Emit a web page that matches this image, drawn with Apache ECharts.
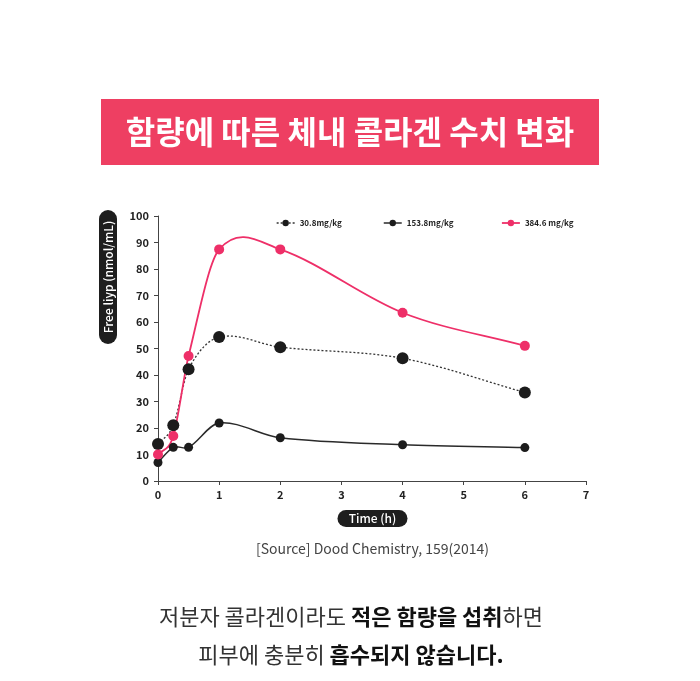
<!DOCTYPE html>
<html>
<head>
<meta charset="utf-8">
<script src="https://cdn.jsdelivr.net/npm/echarts@6/dist/echarts.min.js"></script>
<style>
  html, body { margin: 0; padding: 0; background: #fff; }
  #chart { width: 700px; height: 681px; }
</style>
</head>
<body>
<div id="chart"></div>
<script>
// 시간 (h)
const times = [0, 0.25, 0.5, 1, 2, 4, 6]
// 용량별 Free Hyp 농도 (nmol/mL)
const dose30 = [14, 21, 42.2, 54.3, 50.5, 46.3, 33.4]
const dose153 = [7, 12.7, 12.7, 21.9, 16.3, 13.7, 12.6]
const dose384 = [10, 17, 47.2, 87.4, 87.4, 63.5, 51]
const seriesNames = ['30.8mg/kg', '153.8mg/kg', '384.6 mg/kg']
const xTicks = [0, 7, 1]   // min, max, interval
const yTicks = [0, 100, 10]

const pink = '#EE2F68'
const dark = '#1c1c1c'
const font = '"Noto Sans CJK KR", "Noto Sans", sans-serif'

const pairs = arr => times.map((t, i) => [t, arr[i]])

// 곡선: 축 좌표(api.coord)로 변환한 점들을 지나는 3차 Hermite 곡선
function curveSeries(name, arr, stroke, width, dash) {
  return {
    name: name, type: 'custom', silent: true, z: 2,
    data: pairs(arr),
    renderItem: (params, api) => {
      if (params.dataIndex !== 0) return null
      const p = times.map((t, i) => api.coord([t, arr[i]]))
      const n = p.length
      const m = p.map((pt, i) => {
        const a = p[Math.max(i - 1, 0)]
        const b = p[Math.min(i + 1, n - 1)]
        return (b[1] - a[1]) / (b[0] - a[0])
      })
      let d = 'M' + p[0][0] + ' ' + p[0][1]
      for (let i = 0; i < n - 1; i++) {
        const dx = (p[i + 1][0] - p[i][0]) / 3
        d += ' C' + (p[i][0] + dx) + ' ' + (p[i][1] + m[i] * dx) + ' ' +
          (p[i + 1][0] - dx) + ' ' + (p[i + 1][1] - m[i + 1] * dx) + ' ' +
          p[i + 1][0] + ' ' + p[i + 1][1]
      }
      return {
        type: 'path',
        shape: { pathData: d },
        style: { fill: 'none', stroke: stroke, lineWidth: width, lineDash: dash || null }
      }
    }
  }
}

const myChart = echarts.init(document.getElementById('chart'), null, { renderer: 'canvas' })

const legendBase = {
  top: 214,
  itemWidth: 18,
  itemHeight: 8,
  textStyle: { fontSize: 8, fontWeight: 600, color: '#222', fontFamily: font }
}

const option = {
  animation: false,
  backgroundColor: '#fff',
  grid: { left: 158, right: 114, top: 216, bottom: 200, containLabel: false },
  legend: [
    Object.assign({ left: 271, data: [{ name: seriesNames[0] }],
      lineStyle: { color: '#333', width: 1.3, type: [2, 2], opacity: 1 } }, legendBase),
    Object.assign({ left: 378, data: [{ name: seriesNames[1] }],
      lineStyle: { color: '#2a2a2a', width: 1.5, type: 'solid', opacity: 1 } }, legendBase),
    Object.assign({ left: 496, data: [{ name: seriesNames[2] }],
      lineStyle: { color: pink, width: 1.8, type: 'solid', opacity: 1 } }, legendBase)
  ],
  xAxis: {
    type: 'value',
    min: xTicks[0], max: xTicks[1], interval: xTicks[2],
    splitLine: { show: false },
    axisLine: { lineStyle: { color: '#444', width: 1 } },
    axisTick: { show: true, length: 4, lineStyle: { color: '#444' } },
    axisLabel: { margin: 8, fontSize: 11, fontWeight: 'bold', color: '#222', fontFamily: font }
  },
  yAxis: {
    type: 'value',
    min: yTicks[0], max: yTicks[1], interval: yTicks[2],
    splitLine: { show: false },
    axisLine: { show: true, lineStyle: { color: '#444', width: 1 } },
    axisTick: { show: true, length: 4, lineStyle: { color: '#444' } },
    axisLabel: { margin: 9, fontSize: 11, fontWeight: 'bold', color: '#222', fontFamily: font }
  },
  series: [
    curveSeries('c30', dose30, '#333', 1.3, [2, 2]),
    curveSeries('c153', dose153, '#2a2a2a', 1.5),
    curveSeries('c384', dose384, pink, 1.8),
    {
      name: seriesNames[0], type: 'line',
      data: pairs(dose30),
      symbol: 'circle', symbolSize: 12,
      itemStyle: { color: dark },
      lineStyle: { color: '#333', width: 0, opacity: 0 },
      z: 4
    },
    {
      name: seriesNames[1], type: 'line',
      data: pairs(dose153),
      symbol: 'circle', symbolSize: 9,
      itemStyle: { color: dark },
      lineStyle: { color: '#2a2a2a', width: 0, opacity: 0 },
      z: 3
    },
    {
      name: seriesNames[2], type: 'line',
      data: pairs(dose384),
      symbol: 'circle', symbolSize: 10,
      itemStyle: { color: pink },
      lineStyle: { color: pink, width: 0, opacity: 0 },
      z: 5
    }
  ],
  graphic: [
    // 제목 박스
    {
      type: 'rect', left: 101, top: 99, z: 10,
      shape: { width: 498, height: 66 },
      style: { fill: '#EE3F62' }
    },
    {
      type: 'text', x: 350, y: 132, z: 11,
      style: {
        text: '함량에 따른 체내 콜라겐 수치 변화',
        fill: '#fff', font: 'bold 32px ' + font,
        align: 'center', verticalAlign: 'middle'
      }
    },
    // y축 이름
    {
      type: 'group', x: 108, y: 277, rotation: Math.PI / 2, z: 10,
      children: [
        { type: 'rect', shape: { x: -67, y: -9, width: 134, height: 18, r: 9 }, style: { fill: '#1e1e1e' } },
        {
          type: 'text', x: 0, y: 0,
          style: { text: 'Free liyp (nmol/mL)', fill: '#fff', font: '500 12px ' + font, align: 'center', verticalAlign: 'middle' }
        }
      ]
    },
    // x축 이름
    {
      type: 'group', x: 372.5, y: 518.5, z: 10,
      children: [
        { type: 'rect', shape: { x: -35, y: -8.5, width: 70, height: 17, r: 8.5 }, style: { fill: '#1e1e1e' } },
        {
          type: 'text', x: 0, y: 0,
          style: { text: 'Time (h)', fill: '#fff', font: '500 12px ' + font, align: 'center', verticalAlign: 'middle' }
        }
      ]
    },
    {
      type: 'text', x: 372.5, y: 549, z: 10,
      style: {
        text: '[Source] Dood Chemistry, 159(2014)',
        fill: '#444', font: '14px ' + font,
        align: 'center', verticalAlign: 'middle'
      }
    },
    // 하단 설명
    {
      type: 'text', x: 351, y: 617, z: 10,
      style: {
        text: '{n|저분자 콜라겐이라도 }{b|적은 함량을 섭취}{n|하면}',
        align: 'center', verticalAlign: 'middle',
        rich: {
          n: { font: '22px ' + font, fill: '#333' },
          b: { font: 'bold 22px ' + font, fill: '#111' }
        }
      }
    },
    {
      type: 'text', x: 351, y: 655, z: 10,
      style: {
        text: '{n|피부에 충분히 }{b|흡수되지 않습니다.}',
        align: 'center', verticalAlign: 'middle',
        rich: {
          n: { font: '22px ' + font, fill: '#333' },
          b: { font: 'bold 22px ' + font, fill: '#111' }
        }
      }
    }
  ]
}

myChart.setOption(option)
window.addEventListener('resize', () => { myChart && myChart.resize() })
</script>
</body>
</html>
